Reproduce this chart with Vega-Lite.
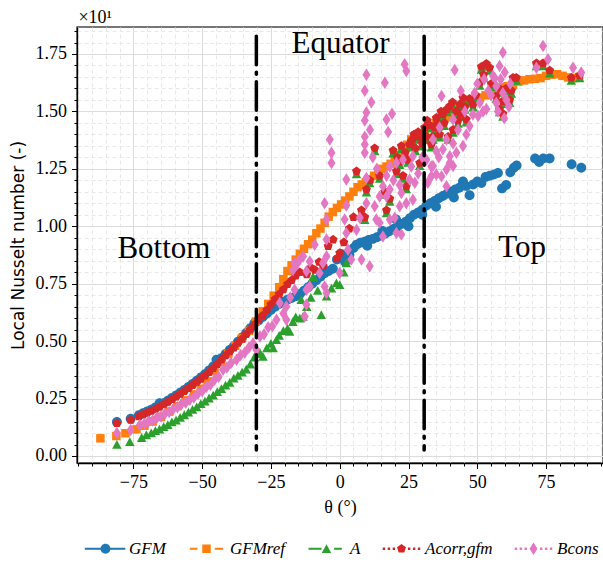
{
  "$schema": "https://vega.github.io/schema/vega-lite/v6.json",
  "width": 526,
  "height": 436,
  "autosize": {"type": "none"},
  "padding": {"left": 77, "top": 27, "right": 0, "bottom": 103},
  "config": {
    "font": "Liberation Serif",
    "view": {"stroke": "#4a4a4a", "strokeWidth": 1.5},
    "axis": {"domainColor": "black", "domainWidth": 1.3, "tickColor": "black", "tickWidth": 1, "labelFont": "Liberation Serif", "labelFontSize": 18, "labelColor": "black", "titleColor": "black", "labelOverlap": false, "labelBound": false, "labelFlush": false}
  },
  "datasets": {
    "pts": [
      {"series":"GFM","theta":-81,"Nu":1.48},{"series":"GFM","theta":-76,"Nu":1.62},{"series":"GFM","theta":-73,"Nu":1.78},{"series":"GFM","theta":-71.5,"Nu":1.86},{"series":"GFM","theta":-70,"Nu":1.94},{"series":"GFM","theta":-68.5,"Nu":2.02},{"series":"GFM","theta":-67,"Nu":2.11},{"series":"GFM","theta":-65.5,"Nu":2.3},{"series":"GFM","theta":-64,"Nu":2.3},{"series":"GFM","theta":-62.5,"Nu":2.41},{"series":"GFM","theta":-61,"Nu":2.53},{"series":"GFM","theta":-59.5,"Nu":2.64},{"series":"GFM","theta":-58,"Nu":2.76},{"series":"GFM","theta":-56.5,"Nu":2.88},{"series":"GFM","theta":-55,"Nu":3.01},{"series":"GFM","theta":-53.5,"Nu":3.14},{"series":"GFM","theta":-52,"Nu":3.28},{"series":"GFM","theta":-50.5,"Nu":3.42},{"series":"GFM","theta":-49,"Nu":3.56},{"series":"GFM","theta":-47.5,"Nu":3.72},{"series":"GFM","theta":-46,"Nu":3.9},{"series":"GFM","theta":-44.8,"Nu":4.19},{"series":"GFM","theta":-43,"Nu":4.26},{"series":"GFM","theta":-41.5,"Nu":4.44},{"series":"GFM","theta":-40,"Nu":4.62},{"series":"GFM","theta":-38.5,"Nu":4.78},{"series":"GFM","theta":-37,"Nu":4.98},{"series":"GFM","theta":-35.5,"Nu":5.16},{"series":"GFM","theta":-34,"Nu":5.36},{"series":"GFM","theta":-32.5,"Nu":5.56},{"series":"GFM","theta":-31,"Nu":5.78},{"series":"GFM","theta":-29.5,"Nu":5.9},{"series":"GFM","theta":-28,"Nu":6.05},{"series":"GFM","theta":-26.5,"Nu":6.2},{"series":"GFM","theta":-25,"Nu":6.35},{"series":"GFM","theta":-23.5,"Nu":6.5},{"series":"GFM","theta":-22,"Nu":6.62},{"series":"GFM","theta":-20.5,"Nu":6.72},{"series":"GFM","theta":-19,"Nu":6.8},{"series":"GFM","theta":-17.5,"Nu":6.88},{"series":"GFM","theta":-16,"Nu":6.95},{"series":"GFM","theta":-14.5,"Nu":7.05},{"series":"GFM","theta":-13,"Nu":7.2},{"series":"GFM","theta":-11.5,"Nu":7.35},{"series":"GFM","theta":-10,"Nu":7.5},{"series":"GFM","theta":-8.5,"Nu":7.65},{"series":"GFM","theta":-7,"Nu":7.8},{"series":"GFM","theta":-5.5,"Nu":7.95},{"series":"GFM","theta":-4,"Nu":8.05},{"series":"GFM","theta":-2.5,"Nu":8.15},{"series":"GFM","theta":-1,"Nu":8.55},{"series":"GFM","theta":0.5,"Nu":8.8},{"series":"GFM","theta":2,"Nu":8.45},{"series":"GFM","theta":3.5,"Nu":8.75},{"series":"GFM","theta":5,"Nu":9.05},{"series":"GFM","theta":6.1,"Nu":9.2},{"series":"GFM","theta":7.5,"Nu":9.28},{"series":"GFM","theta":9,"Nu":9.33},{"series":"GFM","theta":10,"Nu":9.15},{"series":"GFM","theta":10.5,"Nu":9.4},{"series":"GFM","theta":12,"Nu":9.45},{"series":"GFM","theta":13.5,"Nu":9.52},{"series":"GFM","theta":15,"Nu":9.6},{"series":"GFM","theta":15.5,"Nu":9.8},{"series":"GFM","theta":16.5,"Nu":9.68},{"series":"GFM","theta":18,"Nu":9.78},{"series":"GFM","theta":19.5,"Nu":9.88},{"series":"GFM","theta":20.5,"Nu":10.3},{"series":"GFM","theta":21,"Nu":9.98},{"series":"GFM","theta":22.5,"Nu":10.1},{"series":"GFM","theta":24,"Nu":10.2},{"series":"GFM","theta":25,"Nu":10.0},{"series":"GFM","theta":25.5,"Nu":10.35},{"series":"GFM","theta":27,"Nu":10.5},{"series":"GFM","theta":28.5,"Nu":10.6},{"series":"GFM","theta":30,"Nu":10.5},{"series":"GFM","theta":30,"Nu":10.72},{"series":"GFM","theta":31.5,"Nu":10.9},{"series":"GFM","theta":33,"Nu":11.0},{"series":"GFM","theta":34.5,"Nu":11.1},{"series":"GFM","theta":35,"Nu":10.85},{"series":"GFM","theta":36,"Nu":11.22},{"series":"GFM","theta":37.5,"Nu":11.32},{"series":"GFM","theta":39,"Nu":11.42},{"series":"GFM","theta":40.5,"Nu":11.5},{"series":"GFM","theta":41.5,"Nu":11.25},{"series":"GFM","theta":42,"Nu":11.6},{"series":"GFM","theta":43.5,"Nu":11.68},{"series":"GFM","theta":44.8,"Nu":11.95},{"series":"GFM","theta":46,"Nu":11.75},{"series":"GFM","theta":47.2,"Nu":11.35},{"series":"GFM","theta":48.5,"Nu":11.82},{"series":"GFM","theta":50,"Nu":11.95},{"series":"GFM","theta":51.5,"Nu":11.88},{"series":"GFM","theta":53,"Nu":12.15},{"series":"GFM","theta":54.5,"Nu":12.2},{"series":"GFM","theta":56,"Nu":12.25},{"series":"GFM","theta":57.5,"Nu":12.32},{"series":"GFM","theta":59,"Nu":11.65},{"series":"GFM","theta":60.5,"Nu":11.8},{"series":"GFM","theta":62,"Nu":12.35},{"series":"GFM","theta":63.3,"Nu":12.55},{"series":"GFM","theta":64.3,"Nu":12.65},{"series":"GFM","theta":71,"Nu":12.95},{"series":"GFM","theta":72.5,"Nu":12.8},{"series":"GFM","theta":74,"Nu":12.95},{"series":"GFM","theta":76.3,"Nu":12.95},{"series":"GFM","theta":84.3,"Nu":12.7},{"series":"GFM","theta":87.8,"Nu":12.55},

      {"series":"GFM_ref","theta":-87,"Nu":0.77},{"series":"GFM_ref","theta":-81.2,"Nu":0.87},{"series":"GFM_ref","theta":-77.9,"Nu":0.99},{"series":"GFM_ref","theta":-73.9,"Nu":1.16},{"series":"GFM_ref","theta":-71,"Nu":1.32},{"series":"GFM_ref","theta":-68,"Nu":1.5},{"series":"GFM_ref","theta":-65,"Nu":1.7},{"series":"GFM_ref","theta":-62,"Nu":1.93},{"series":"GFM_ref","theta":-59,"Nu":2.17},{"series":"GFM_ref","theta":-56,"Nu":2.42},{"series":"GFM_ref","theta":-53,"Nu":2.68},{"series":"GFM_ref","theta":-50.5,"Nu":2.93},{"series":"GFM_ref","theta":-48,"Nu":3.25},{"series":"GFM_ref","theta":-45.5,"Nu":3.7},{"series":"GFM_ref","theta":-43,"Nu":4.1},{"series":"GFM_ref","theta":-40.5,"Nu":4.45},{"series":"GFM_ref","theta":-38,"Nu":4.8},{"series":"GFM_ref","theta":-35.5,"Nu":5.12},{"series":"GFM_ref","theta":-33,"Nu":5.45},{"series":"GFM_ref","theta":-30.5,"Nu":5.85},{"series":"GFM_ref","theta":-28,"Nu":6.3},{"series":"GFM_ref","theta":-26,"Nu":6.62},{"series":"GFM_ref","theta":-24,"Nu":6.98},{"series":"GFM_ref","theta":-22,"Nu":7.35},{"series":"GFM_ref","theta":-20.5,"Nu":7.7},{"series":"GFM_ref","theta":-19,"Nu":8.05},{"series":"GFM_ref","theta":-17.5,"Nu":8.3},{"series":"GFM_ref","theta":-16,"Nu":8.55},{"series":"GFM_ref","theta":-14.5,"Nu":8.8},{"series":"GFM_ref","theta":-13,"Nu":9.02},{"series":"GFM_ref","theta":-11.5,"Nu":9.22},{"series":"GFM_ref","theta":-10,"Nu":9.42},{"series":"GFM_ref","theta":-8.5,"Nu":9.7},{"series":"GFM_ref","theta":-7,"Nu":9.9},{"series":"GFM_ref","theta":-5.5,"Nu":10.15},{"series":"GFM_ref","theta":-4,"Nu":10.42},{"series":"GFM_ref","theta":-2.5,"Nu":10.62},{"series":"GFM_ref","theta":-1,"Nu":10.8},{"series":"GFM_ref","theta":0.5,"Nu":10.95},{"series":"GFM_ref","theta":2,"Nu":11.12},{"series":"GFM_ref","theta":3.5,"Nu":11.3},{"series":"GFM_ref","theta":5,"Nu":11.5},{"series":"GFM_ref","theta":6.5,"Nu":11.7},{"series":"GFM_ref","theta":8,"Nu":11.82},{"series":"GFM_ref","theta":9.5,"Nu":11.92},{"series":"GFM_ref","theta":11,"Nu":12.05},{"series":"GFM_ref","theta":12.5,"Nu":12.2},{"series":"GFM_ref","theta":14,"Nu":12.35},{"series":"GFM_ref","theta":15.5,"Nu":12.5},{"series":"GFM_ref","theta":17,"Nu":12.6},{"series":"GFM_ref","theta":18.5,"Nu":12.72},{"series":"GFM_ref","theta":20,"Nu":12.9},{"series":"GFM_ref","theta":21.5,"Nu":13.1},{"series":"GFM_ref","theta":23,"Nu":13.3},{"series":"GFM_ref","theta":24.5,"Nu":13.55},{"series":"GFM_ref","theta":26,"Nu":13.78},{"series":"GFM_ref","theta":27.5,"Nu":13.95},{"series":"GFM_ref","theta":29,"Nu":14.05},{"series":"GFM_ref","theta":31,"Nu":14.2},{"series":"GFM_ref","theta":33,"Nu":14.35},{"series":"GFM_ref","theta":35,"Nu":14.5},{"series":"GFM_ref","theta":37,"Nu":14.62},{"series":"GFM_ref","theta":39,"Nu":14.75},{"series":"GFM_ref","theta":41,"Nu":14.9},{"series":"GFM_ref","theta":43,"Nu":15.05},{"series":"GFM_ref","theta":45,"Nu":15.2},{"series":"GFM_ref","theta":47,"Nu":15.35},{"series":"GFM_ref","theta":49,"Nu":15.48},{"series":"GFM_ref","theta":51,"Nu":15.6},{"series":"GFM_ref","theta":53,"Nu":15.7},{"series":"GFM_ref","theta":55,"Nu":15.82},{"series":"GFM_ref","theta":57,"Nu":15.95},{"series":"GFM_ref","theta":59,"Nu":16.05},{"series":"GFM_ref","theta":61,"Nu":16.1},{"series":"GFM_ref","theta":63,"Nu":16.15},{"series":"GFM_ref","theta":65,"Nu":16.3},{"series":"GFM_ref","theta":67,"Nu":16.35},{"series":"GFM_ref","theta":69,"Nu":16.4},{"series":"GFM_ref","theta":71,"Nu":16.42},{"series":"GFM_ref","theta":73,"Nu":16.45},{"series":"GFM_ref","theta":75,"Nu":16.55},{"series":"GFM_ref","theta":77,"Nu":16.6},{"series":"GFM_ref","theta":79,"Nu":16.62},{"series":"GFM_ref","theta":81,"Nu":16.55},{"series":"GFM_ref","theta":83,"Nu":16.48},{"series":"GFM_ref","theta":85,"Nu":16.45},{"series":"GFM_ref","theta":87,"Nu":16.5},

      {"series":"A","theta":-81,"Nu":0.5},{"series":"A","theta":-76.3,"Nu":0.62},{"series":"A","theta":-72,"Nu":0.8},{"series":"A","theta":-70.3,"Nu":0.92},{"series":"A","theta":-68.5,"Nu":1.0},{"series":"A","theta":-67,"Nu":1.1},{"series":"A","theta":-65.5,"Nu":1.17},{"series":"A","theta":-64,"Nu":1.27},{"series":"A","theta":-62.5,"Nu":1.36},{"series":"A","theta":-61,"Nu":1.48},{"series":"A","theta":-59.5,"Nu":1.56},{"series":"A","theta":-58,"Nu":1.68},{"series":"A","theta":-56.5,"Nu":1.79},{"series":"A","theta":-55,"Nu":1.9},{"series":"A","theta":-53.5,"Nu":2.02},{"series":"A","theta":-52,"Nu":2.13},{"series":"A","theta":-50.5,"Nu":2.27},{"series":"A","theta":-49,"Nu":2.38},{"series":"A","theta":-47.5,"Nu":2.52},{"series":"A","theta":-46,"Nu":2.64},{"series":"A","theta":-44.5,"Nu":2.8},{"series":"A","theta":-43,"Nu":2.93},{"series":"A","theta":-41.5,"Nu":3.08},{"series":"A","theta":-40,"Nu":3.2},{"series":"A","theta":-38.5,"Nu":3.38},{"series":"A","theta":-37,"Nu":3.5},{"series":"A","theta":-35.5,"Nu":3.65},{"series":"A","theta":-34,"Nu":3.78},{"series":"A","theta":-32.5,"Nu":4.0},{"series":"A","theta":-31,"Nu":4.3},{"series":"A","theta":-30.3,"Nu":4.45},{"series":"A","theta":-29,"Nu":4.5},{"series":"A","theta":-27.9,"Nu":4.33},{"series":"A","theta":-26.5,"Nu":4.7},{"series":"A","theta":-25,"Nu":4.9},{"series":"A","theta":-24.2,"Nu":4.7},{"series":"A","theta":-23,"Nu":5.06},{"series":"A","theta":-22,"Nu":5.25},{"series":"A","theta":-20.5,"Nu":5.45},{"series":"A","theta":-19,"Nu":5.55},{"series":"A","theta":-18.2,"Nu":5.42},{"series":"A","theta":-17,"Nu":5.85},{"series":"A","theta":-16,"Nu":6.05},{"series":"A","theta":-14.5,"Nu":6.0},{"series":"A","theta":-14,"Nu":6.8},{"series":"A","theta":-13.3,"Nu":6.07},{"series":"A","theta":-12,"Nu":6.5},{"series":"A","theta":-10.5,"Nu":6.9},{"series":"A","theta":-9.7,"Nu":7.8},{"series":"A","theta":-8,"Nu":7.2},{"series":"A","theta":-6.7,"Nu":6.15},{"series":"A","theta":-4.8,"Nu":6.95},{"series":"A","theta":-3,"Nu":7.3},{"series":"A","theta":-1.2,"Nu":7.53},{"series":"A","theta":0,"Nu":7.46},{"series":"A","theta":1.5,"Nu":8.0},{"series":"A","theta":2.4,"Nu":8.4},
      {"series":"A","theta":6.1,"Nu":12.28},{"series":"A","theta":7.9,"Nu":10.58},{"series":"A","theta":9.1,"Nu":10.28},{"series":"A","theta":9.7,"Nu":11.48},{"series":"A","theta":10.9,"Nu":11.88},{"series":"A","theta":12.7,"Nu":13.28},{"series":"A","theta":14.5,"Nu":12.08},{"series":"A","theta":16.4,"Nu":11.38},{"series":"A","theta":17,"Nu":10.58},{"series":"A","theta":18.2,"Nu":11.08},{"series":"A","theta":19.4,"Nu":13.18},{"series":"A","theta":20.6,"Nu":12.28},{"series":"A","theta":21,"Nu":12.88},{"series":"A","theta":21.8,"Nu":12.68},{"series":"A","theta":22.4,"Nu":13.38},{"series":"A","theta":23,"Nu":12.08},{"series":"A","theta":23.8,"Nu":13.08},{"series":"A","theta":24.2,"Nu":11.62},{"series":"A","theta":24.8,"Nu":12.78},{"series":"A","theta":25.4,"Nu":13.44},{"series":"A","theta":26,"Nu":13.58},{"series":"A","theta":26.6,"Nu":13.68},{"series":"A","theta":27,"Nu":13.88},{"series":"A","theta":27.5,"Nu":13.28},{"series":"A","theta":28.5,"Nu":13.98},{"series":"A","theta":29.1,"Nu":13.78},{"series":"A","theta":29.1,"Nu":12.64},{"series":"A","theta":30,"Nu":13.48},{"series":"A","theta":30.9,"Nu":14.18},{"series":"A","theta":31.5,"Nu":13.78},{"series":"A","theta":31.8,"Nu":14.48},{"series":"A","theta":32.7,"Nu":14.28},{"series":"A","theta":33.3,"Nu":13.44},{"series":"A","theta":33.9,"Nu":13.78},{"series":"A","theta":34.5,"Nu":14.18},{"series":"A","theta":35.1,"Nu":14.6},{"series":"A","theta":35.8,"Nu":14.33},{"series":"A","theta":36.3,"Nu":13.88},{"series":"A","theta":36.8,"Nu":14.88},{"series":"A","theta":37.5,"Nu":14.75},{"series":"A","theta":38,"Nu":14.38},{"series":"A","theta":39,"Nu":14.98},{"series":"A","theta":39.4,"Nu":13.78},{"series":"A","theta":40,"Nu":15.11},{"series":"A","theta":41,"Nu":15.28},{"series":"A","theta":41.2,"Nu":14.08},{"series":"A","theta":42.4,"Nu":14.88},{"series":"A","theta":43,"Nu":14.48},{"series":"A","theta":43.6,"Nu":15.18},{"series":"A","theta":44,"Nu":14.78},{"series":"A","theta":44.8,"Nu":15.48},{"series":"A","theta":45.5,"Nu":15.08},{"series":"A","theta":46,"Nu":14.53},{"series":"A","theta":47.2,"Nu":15.43},{"series":"A","theta":48.5,"Nu":15.18},{"series":"A","theta":49.5,"Nu":15.58},{"series":"A","theta":50.9,"Nu":16.13},{"series":"A","theta":51.5,"Nu":16.83},{"series":"A","theta":52.3,"Nu":16.48},{"series":"A","theta":53.3,"Nu":16.96},{"series":"A","theta":54.5,"Nu":16.78},{"series":"A","theta":55.1,"Nu":16.08},{"series":"A","theta":56.9,"Nu":15.55},{"series":"A","theta":58.1,"Nu":14.98},{"series":"A","theta":58.5,"Nu":15.83},{"series":"A","theta":59.3,"Nu":14.78},{"series":"A","theta":59.3,"Nu":15.33},{"series":"A","theta":60.5,"Nu":15.88},{"series":"A","theta":61.8,"Nu":15.38},{"series":"A","theta":62.4,"Nu":15.78},{"series":"A","theta":63,"Nu":16.35},{"series":"A","theta":64.2,"Nu":16.35},{"series":"A","theta":71.5,"Nu":16.98},{"series":"A","theta":73.9,"Nu":16.98},{"series":"A","theta":76.3,"Nu":16.66},{"series":"A","theta":84.2,"Nu":16.35},{"series":"A","theta":87.2,"Nu":16.46},

      {"series":"A_corr,gfm","theta":-81,"Nu":1.43},{"series":"A_corr,gfm","theta":-76,"Nu":1.57},{"series":"A_corr,gfm","theta":-73,"Nu":1.72},{"series":"A_corr,gfm","theta":-71.5,"Nu":1.8},{"series":"A_corr,gfm","theta":-70,"Nu":1.88},{"series":"A_corr,gfm","theta":-68.5,"Nu":1.96},{"series":"A_corr,gfm","theta":-67,"Nu":2.05},{"series":"A_corr,gfm","theta":-65.5,"Nu":2.14},{"series":"A_corr,gfm","theta":-64,"Nu":2.24},{"series":"A_corr,gfm","theta":-62.5,"Nu":2.35},{"series":"A_corr,gfm","theta":-61,"Nu":2.47},{"series":"A_corr,gfm","theta":-59.5,"Nu":2.58},{"series":"A_corr,gfm","theta":-58,"Nu":2.7},{"series":"A_corr,gfm","theta":-56.5,"Nu":2.82},{"series":"A_corr,gfm","theta":-55,"Nu":2.95},{"series":"A_corr,gfm","theta":-53.5,"Nu":3.08},{"series":"A_corr,gfm","theta":-52,"Nu":3.22},{"series":"A_corr,gfm","theta":-50.5,"Nu":3.36},{"series":"A_corr,gfm","theta":-49,"Nu":3.5},{"series":"A_corr,gfm","theta":-47.5,"Nu":3.65},{"series":"A_corr,gfm","theta":-46,"Nu":3.82},{"series":"A_corr,gfm","theta":-44.5,"Nu":4.0},{"series":"A_corr,gfm","theta":-43,"Nu":4.2},{"series":"A_corr,gfm","theta":-41.5,"Nu":4.38},{"series":"A_corr,gfm","theta":-40,"Nu":4.55},{"series":"A_corr,gfm","theta":-38.5,"Nu":4.72},{"series":"A_corr,gfm","theta":-37,"Nu":4.92},{"series":"A_corr,gfm","theta":-35.5,"Nu":5.1},{"series":"A_corr,gfm","theta":-34,"Nu":5.3},{"series":"A_corr,gfm","theta":-32.5,"Nu":5.5},{"series":"A_corr,gfm","theta":-31,"Nu":5.72},{"series":"A_corr,gfm","theta":-29.5,"Nu":5.92},{"series":"A_corr,gfm","theta":-28,"Nu":6.12},{"series":"A_corr,gfm","theta":-26.5,"Nu":6.35},{"series":"A_corr,gfm","theta":-25,"Nu":6.6},{"series":"A_corr,gfm","theta":-23.5,"Nu":6.82},{"series":"A_corr,gfm","theta":-22,"Nu":7.05},{"series":"A_corr,gfm","theta":-20.5,"Nu":7.25},{"series":"A_corr,gfm","theta":-19,"Nu":7.48},{"series":"A_corr,gfm","theta":-17.5,"Nu":7.65},{"series":"A_corr,gfm","theta":-16,"Nu":7.85},{"series":"A_corr,gfm","theta":-14.5,"Nu":8.0},{"series":"A_corr,gfm","theta":-12,"Nu":7.9},{"series":"A_corr,gfm","theta":-10.5,"Nu":8.2},{"series":"A_corr,gfm","theta":-9,"Nu":8.1},{"series":"A_corr,gfm","theta":-7.5,"Nu":8.45},{"series":"A_corr,gfm","theta":-6,"Nu":8.26},{"series":"A_corr,gfm","theta":-4.2,"Nu":9.13},{"series":"A_corr,gfm","theta":-2.4,"Nu":9.42},{"series":"A_corr,gfm","theta":-1,"Nu":8.6},{"series":"A_corr,gfm","theta":0,"Nu":8.84},{"series":"A_corr,gfm","theta":1.5,"Nu":9.3},{"series":"A_corr,gfm","theta":3.5,"Nu":9.9},{"series":"A_corr,gfm","theta":5,"Nu":10.4},
      {"series":"A_corr,gfm","theta":6.1,"Nu":12.4},{"series":"A_corr,gfm","theta":7.9,"Nu":10.7},{"series":"A_corr,gfm","theta":9.1,"Nu":10.4},{"series":"A_corr,gfm","theta":9.7,"Nu":11.6},{"series":"A_corr,gfm","theta":10.9,"Nu":12.0},{"series":"A_corr,gfm","theta":12.7,"Nu":13.4},{"series":"A_corr,gfm","theta":14.5,"Nu":12.2},{"series":"A_corr,gfm","theta":16.4,"Nu":11.5},{"series":"A_corr,gfm","theta":17,"Nu":10.7},{"series":"A_corr,gfm","theta":18.2,"Nu":11.2},{"series":"A_corr,gfm","theta":19.4,"Nu":13.3},{"series":"A_corr,gfm","theta":20.6,"Nu":12.4},{"series":"A_corr,gfm","theta":21,"Nu":13.0},{"series":"A_corr,gfm","theta":21.8,"Nu":12.8},{"series":"A_corr,gfm","theta":22.4,"Nu":13.5},{"series":"A_corr,gfm","theta":23,"Nu":12.2},{"series":"A_corr,gfm","theta":23.8,"Nu":13.2},{"series":"A_corr,gfm","theta":24.2,"Nu":11.74},{"series":"A_corr,gfm","theta":24.8,"Nu":12.9},{"series":"A_corr,gfm","theta":25.4,"Nu":13.56},{"series":"A_corr,gfm","theta":26,"Nu":13.7},{"series":"A_corr,gfm","theta":26.6,"Nu":13.8},{"series":"A_corr,gfm","theta":27,"Nu":14.0},{"series":"A_corr,gfm","theta":27.5,"Nu":13.4},{"series":"A_corr,gfm","theta":28.5,"Nu":14.1},{"series":"A_corr,gfm","theta":29.1,"Nu":13.9},{"series":"A_corr,gfm","theta":29.1,"Nu":12.76},{"series":"A_corr,gfm","theta":30,"Nu":13.6},{"series":"A_corr,gfm","theta":30.9,"Nu":14.3},{"series":"A_corr,gfm","theta":31.5,"Nu":13.9},{"series":"A_corr,gfm","theta":31.8,"Nu":14.6},{"series":"A_corr,gfm","theta":32.7,"Nu":14.4},{"series":"A_corr,gfm","theta":33.3,"Nu":13.56},{"series":"A_corr,gfm","theta":33.9,"Nu":13.9},{"series":"A_corr,gfm","theta":34.5,"Nu":14.3},{"series":"A_corr,gfm","theta":35.1,"Nu":14.72},{"series":"A_corr,gfm","theta":35.8,"Nu":14.45},{"series":"A_corr,gfm","theta":36.3,"Nu":14.0},{"series":"A_corr,gfm","theta":36.8,"Nu":15.0},{"series":"A_corr,gfm","theta":37.5,"Nu":14.87},{"series":"A_corr,gfm","theta":38,"Nu":14.5},{"series":"A_corr,gfm","theta":39,"Nu":15.1},{"series":"A_corr,gfm","theta":39.4,"Nu":13.9},{"series":"A_corr,gfm","theta":40,"Nu":15.23},{"series":"A_corr,gfm","theta":41,"Nu":15.4},{"series":"A_corr,gfm","theta":41.2,"Nu":14.2},{"series":"A_corr,gfm","theta":42.4,"Nu":15.0},{"series":"A_corr,gfm","theta":43,"Nu":14.6},{"series":"A_corr,gfm","theta":43.6,"Nu":15.3},{"series":"A_corr,gfm","theta":44,"Nu":14.9},{"series":"A_corr,gfm","theta":44.8,"Nu":15.6},{"series":"A_corr,gfm","theta":45.5,"Nu":15.2},{"series":"A_corr,gfm","theta":46,"Nu":14.65},{"series":"A_corr,gfm","theta":47.2,"Nu":15.55},{"series":"A_corr,gfm","theta":48.5,"Nu":15.3},{"series":"A_corr,gfm","theta":49.5,"Nu":15.7},{"series":"A_corr,gfm","theta":50.9,"Nu":16.25},{"series":"A_corr,gfm","theta":51.5,"Nu":16.95},{"series":"A_corr,gfm","theta":52.3,"Nu":16.6},{"series":"A_corr,gfm","theta":53.3,"Nu":17.08},{"series":"A_corr,gfm","theta":54.5,"Nu":16.9},{"series":"A_corr,gfm","theta":55.1,"Nu":16.2},{"series":"A_corr,gfm","theta":56.9,"Nu":15.67},{"series":"A_corr,gfm","theta":58.1,"Nu":15.1},{"series":"A_corr,gfm","theta":58.5,"Nu":15.95},{"series":"A_corr,gfm","theta":59.3,"Nu":14.9},{"series":"A_corr,gfm","theta":59.3,"Nu":15.45},{"series":"A_corr,gfm","theta":60.5,"Nu":16.0},{"series":"A_corr,gfm","theta":61.8,"Nu":15.5},{"series":"A_corr,gfm","theta":62.4,"Nu":15.9},{"series":"A_corr,gfm","theta":63,"Nu":16.47},{"series":"A_corr,gfm","theta":64.2,"Nu":16.47},{"series":"A_corr,gfm","theta":71.5,"Nu":17.1},{"series":"A_corr,gfm","theta":73.9,"Nu":17.1},{"series":"A_corr,gfm","theta":76.3,"Nu":16.78},{"series":"A_corr,gfm","theta":84.2,"Nu":16.47},{"series":"A_corr,gfm","theta":87.2,"Nu":16.58},

      {"series":"B_cons","theta":-81,"Nu":1.0},{"series":"B_cons","theta":-76,"Nu":1.13},{"series":"B_cons","theta":-72.7,"Nu":1.35},{"series":"B_cons","theta":-71,"Nu":1.4},{"series":"B_cons","theta":-69.5,"Nu":1.5},{"series":"B_cons","theta":-68,"Nu":1.55},{"series":"B_cons","theta":-66.5,"Nu":1.66},{"series":"B_cons","theta":-65,"Nu":1.72},{"series":"B_cons","theta":-63.5,"Nu":1.85},{"series":"B_cons","theta":-62,"Nu":1.92},{"series":"B_cons","theta":-60.5,"Nu":2.05},{"series":"B_cons","theta":-59,"Nu":2.12},{"series":"B_cons","theta":-57.5,"Nu":2.26},{"series":"B_cons","theta":-56,"Nu":2.32},{"series":"B_cons","theta":-54.5,"Nu":2.45},{"series":"B_cons","theta":-53,"Nu":2.55},{"series":"B_cons","theta":-51.5,"Nu":2.72},{"series":"B_cons","theta":-50,"Nu":2.82},{"series":"B_cons","theta":-48.5,"Nu":3.0},{"series":"B_cons","theta":-47,"Nu":3.1},{"series":"B_cons","theta":-45.5,"Nu":3.32},{"series":"B_cons","theta":-44,"Nu":3.45},{"series":"B_cons","theta":-42.4,"Nu":3.75},{"series":"B_cons","theta":-41,"Nu":3.85},{"series":"B_cons","theta":-39.5,"Nu":4.05},{"series":"B_cons","theta":-37.5,"Nu":4.19},{"series":"B_cons","theta":-36,"Nu":4.4},{"series":"B_cons","theta":-34.5,"Nu":4.5},{"series":"B_cons","theta":-33,"Nu":4.72},{"series":"B_cons","theta":-31.5,"Nu":4.91},{"series":"B_cons","theta":-30.3,"Nu":4.62},{"series":"B_cons","theta":-29,"Nu":5.2},{"series":"B_cons","theta":-27.5,"Nu":5.3},{"series":"B_cons","theta":-26,"Nu":5.6},{"series":"B_cons","theta":-24.5,"Nu":5.65},{"series":"B_cons","theta":-23,"Nu":5.93},{"series":"B_cons","theta":-21.8,"Nu":6.66},{"series":"B_cons","theta":-20.5,"Nu":6.2},{"series":"B_cons","theta":-19.4,"Nu":6.51},{"series":"B_cons","theta":-19.4,"Nu":5.93},{"series":"B_cons","theta":-18,"Nu":6.9},{"series":"B_cons","theta":-17,"Nu":8.1},{"series":"B_cons","theta":-16.4,"Nu":7.24},{"series":"B_cons","theta":-16.4,"Nu":8.4},{"series":"B_cons","theta":-15.7,"Nu":8.33},
      {"series":"B_cons","theta":-14.5,"Nu":8.55},{"series":"B_cons","theta":-13.3,"Nu":8.69},{"series":"B_cons","theta":-12.1,"Nu":8.04},{"series":"B_cons","theta":-12.1,"Nu":7.24},{"series":"B_cons","theta":-12.1,"Nu":6.59},{"series":"B_cons","theta":-12.7,"Nu":6.07},{"series":"B_cons","theta":-10.9,"Nu":8.47},{"series":"B_cons","theta":-10.9,"Nu":7.38},{"series":"B_cons","theta":-9.1,"Nu":9.2},{"series":"B_cons","theta":-7.3,"Nu":7.97},{"series":"B_cons","theta":-6.1,"Nu":8.4},{"series":"B_cons","theta":-5.5,"Nu":7.38},{"series":"B_cons","theta":-5.5,"Nu":11.0},{"series":"B_cons","theta":-4.8,"Nu":10.3},{"series":"B_cons","theta":-4.8,"Nu":9.42},{"series":"B_cons","theta":-4.8,"Nu":8.69},{"series":"B_cons","theta":-4.8,"Nu":7.1},{"series":"B_cons","theta":-3.6,"Nu":13.78},{"series":"B_cons","theta":-3,"Nu":13.2},{"series":"B_cons","theta":-3,"Nu":12.76},{"series":"B_cons","theta":0,"Nu":7.97},{"series":"B_cons","theta":1.8,"Nu":10.3},{"series":"B_cons","theta":2.4,"Nu":12.04},{"series":"B_cons","theta":2.4,"Nu":10.9},{"series":"B_cons","theta":2.4,"Nu":9.71},{"series":"B_cons","theta":3,"Nu":8.98},{"series":"B_cons","theta":4.2,"Nu":8.55},{"series":"B_cons","theta":6.1,"Nu":9.85},{"series":"B_cons","theta":7.3,"Nu":10.37},{"series":"B_cons","theta":7.9,"Nu":8.55},{"series":"B_cons","theta":9.1,"Nu":15.9},{"series":"B_cons","theta":9.1,"Nu":14.6},{"series":"B_cons","theta":9.1,"Nu":13.9},{"series":"B_cons","theta":9.1,"Nu":13.56},{"series":"B_cons","theta":9.1,"Nu":13.2},{"series":"B_cons","theta":9.7,"Nu":16.6},{"series":"B_cons","theta":9.7,"Nu":14.95},{"series":"B_cons","theta":9.7,"Nu":12.1},{"series":"B_cons","theta":9.7,"Nu":11.0},{"series":"B_cons","theta":10.9,"Nu":8.26},{"series":"B_cons","theta":11,"Nu":14.2},{"series":"B_cons","theta":11.5,"Nu":15.4},{"series":"B_cons","theta":12,"Nu":13.0},{"series":"B_cons","theta":12.7,"Nu":10.87},{"series":"B_cons","theta":13.3,"Nu":10.3},{"series":"B_cons","theta":13.5,"Nu":12.5},{"series":"B_cons","theta":14.5,"Nu":11.3},{"series":"B_cons","theta":14.5,"Nu":10.15},{"series":"B_cons","theta":15.7,"Nu":11.74},{"series":"B_cons","theta":15.7,"Nu":9.56},{"series":"B_cons","theta":16.4,"Nu":16.25},{"series":"B_cons","theta":17,"Nu":14.65},{"series":"B_cons","theta":17,"Nu":12.2},{"series":"B_cons","theta":17,"Nu":11.3},{"series":"B_cons","theta":17.6,"Nu":14.1},{"series":"B_cons","theta":18.2,"Nu":12.6},{"series":"B_cons","theta":18.2,"Nu":11.6},{"series":"B_cons","theta":18.2,"Nu":10.3},{"series":"B_cons","theta":19,"Nu":14.9},{"series":"B_cons","theta":19.5,"Nu":12.0},{"series":"B_cons","theta":20,"Nu":10.37},{"series":"B_cons","theta":20.6,"Nu":12.76},{"series":"B_cons","theta":20.6,"Nu":9.71},{"series":"B_cons","theta":21.8,"Nu":11.8},{"series":"B_cons","theta":21.8,"Nu":10.87},{"series":"B_cons","theta":22.4,"Nu":11.45},{"series":"B_cons","theta":22.4,"Nu":9.64},{"series":"B_cons","theta":23,"Nu":12.9},{"series":"B_cons","theta":23.6,"Nu":17.05},{"series":"B_cons","theta":24.2,"Nu":16.76},{"series":"B_cons","theta":24.2,"Nu":11.0},{"series":"B_cons","theta":25.4,"Nu":12.04},{"series":"B_cons","theta":26,"Nu":12.6},{"series":"B_cons","theta":26.6,"Nu":13.05},{"series":"B_cons","theta":26.6,"Nu":11.16},{"series":"B_cons","theta":27.3,"Nu":11.9},{"series":"B_cons","theta":28.5,"Nu":12.3},{"series":"B_cons","theta":30,"Nu":13.0},{"series":"B_cons","theta":31.5,"Nu":12.9},{"series":"B_cons","theta":32,"Nu":11.9},{"series":"B_cons","theta":33.3,"Nu":12.6},{"series":"B_cons","theta":33.3,"Nu":12.18},{"series":"B_cons","theta":33.9,"Nu":13.78},{"series":"B_cons","theta":33.9,"Nu":12.62},{"series":"B_cons","theta":35.1,"Nu":13.27},{"series":"B_cons","theta":35.1,"Nu":12.25},{"series":"B_cons","theta":36,"Nu":13.0},{"series":"B_cons","theta":36.3,"Nu":14.3},{"series":"B_cons","theta":37,"Nu":15.67},{"series":"B_cons","theta":37,"Nu":12.18},{"series":"B_cons","theta":37.5,"Nu":13.35},{"series":"B_cons","theta":38.8,"Nu":13.78},{"series":"B_cons","theta":38.8,"Nu":12.47},{"series":"B_cons","theta":38.8,"Nu":11.74},{"series":"B_cons","theta":40,"Nu":12.76},{"series":"B_cons","theta":40,"Nu":13.05},{"series":"B_cons","theta":41.2,"Nu":13.6},{"series":"B_cons","theta":41.2,"Nu":14.65},{"series":"B_cons","theta":41.2,"Nu":12.62},{"series":"B_cons","theta":41.8,"Nu":16.8},{"series":"B_cons","theta":42.4,"Nu":13.2},{"series":"B_cons","theta":43,"Nu":14.2},{"series":"B_cons","theta":44,"Nu":15.9},{"series":"B_cons","theta":44.8,"Nu":13.5},{"series":"B_cons","theta":45.5,"Nu":15.0},{"series":"B_cons","theta":46,"Nu":14.0},{"series":"B_cons","theta":47.2,"Nu":14.36},{"series":"B_cons","theta":48.4,"Nu":14.87},{"series":"B_cons","theta":49,"Nu":15.8},{"series":"B_cons","theta":50,"Nu":16.2},{"series":"B_cons","theta":50.3,"Nu":14.8},{"series":"B_cons","theta":50.9,"Nu":15.38},{"series":"B_cons","theta":52.1,"Nu":15.0},{"series":"B_cons","theta":52.5,"Nu":16.4},{"series":"B_cons","theta":53.3,"Nu":15.1},{"series":"B_cons","theta":54,"Nu":15.9},{"series":"B_cons","theta":55,"Nu":15.7},{"series":"B_cons","theta":55.7,"Nu":16.54},{"series":"B_cons","theta":56.3,"Nu":16.47},{"series":"B_cons","theta":56.9,"Nu":16.1},{"series":"B_cons","theta":56.9,"Nu":15.38},{"series":"B_cons","theta":57.5,"Nu":15.0},{"series":"B_cons","theta":58.1,"Nu":16.98},{"series":"B_cons","theta":58.5,"Nu":16.4},{"series":"B_cons","theta":59.3,"Nu":17.56},{"series":"B_cons","theta":59.3,"Nu":15.8},{"series":"B_cons","theta":59.8,"Nu":14.7},{"series":"B_cons","theta":60,"Nu":16.7},{"series":"B_cons","theta":60.6,"Nu":15.5},{"series":"B_cons","theta":61.5,"Nu":15.2},{"series":"B_cons","theta":62,"Nu":16.2},{"series":"B_cons","theta":71.5,"Nu":16.9},{"series":"B_cons","theta":73.9,"Nu":17.85},{"series":"B_cons","theta":75.7,"Nu":17.27},{"series":"B_cons","theta":84.8,"Nu":16.9},{"series":"B_cons","theta":87.8,"Nu":16.69}
    ],
    "dividers": [
      {"theta": -30.3, "Nu": 18.27, "Nu2": 0.26},
      {"theta": 30.7, "Nu": 18.27, "Nu2": 0.26}
    ],
    "regions": [
      {"label": "Bottom", "theta": -63.9, "Nu": 8.62},
      {"label": "Equator", "theta": 0.3, "Nu": 17.55},
      {"label": "Top", "theta": 66.3, "Nu": 8.66}
    ],
    "multiplier": [
      {"label": "×10¹", "theta": -95.0, "Nu": 18.86}
    ]
  },
  "layer": [
    {
      "data": {"name": "pts"},
      "mark": {"type": "point", "filled": true, "opacity": 1, "size": 81, "strokeWidth": 0},
      "encoding": {
        "x": {
          "field": "theta", "type": "quantitative",
          "scale": {"domain": [-95.5, 95.7], "nice": false, "zero": false},
          "axis": {
            "title": "θ (°)", "titleFont": "Liberation Serif", "titleFontSize": 18, "titleFontWeight": "normal", "titlePadding": 7,
            "values": [-95,-90,-85,-80,-75,-70,-65,-60,-55,-50,-45,-40,-35,-30,-25,-20,-15,-10,-5,0,5,10,15,20,25,30,35,40,45,50,55,60,65,70,75,80,85,90,95],
            "tickCount": 200,
            "labelExpr": "datum.value % 25 === 0 ? format(datum.value, 'd') : ''",
            "labelOverlap": false,
            "labelPadding": 5,
            "grid": true,
            "gridColor": {"condition": {"test": "datum.value % 25 === 0", "value": "#dcdcdc"}, "value": "#e8e8e8"},
            "gridDash": {"condition": {"test": "datum.value % 25 === 0", "value": []}, "value": [4, 3]},
            "gridWidth": 1,
            "tickSize": {"condition": {"test": "datum.value % 25 === 0", "value": 5.5}, "value": 3}
          }
        },
        "y": {
          "field": "Nu", "type": "quantitative",
          "scale": {"domain": [-0.305, 18.675], "nice": false, "zero": false},
          "axis": {
            "title": "Local Nusselt number (-)", "titleFont": "DejaVu Sans", "titleFontSize": 17, "titleFontWeight": "normal", "titlePadding": 8,
            "values": [0,0.5,1,1.5,2,2.5,3,3.5,4,4.5,5,5.5,6,6.5,7,7.5,8,8.5,9,9.5,10,10.5,11,11.5,12,12.5,13,13.5,14,14.5,15,15.5,16,16.5,17,17.5,18,18.5],
            "tickCount": 200,
            "labelExpr": "datum.value % 2.5 === 0 ? format(datum.value / 10, '.2f') : ''",
            "labelOverlap": false,
            "labelPadding": 5,
            "grid": true,
            "gridColor": {"condition": {"test": "datum.value % 2.5 === 0", "value": "#dcdcdc"}, "value": "#e8e8e8"},
            "gridDash": {"condition": {"test": "datum.value % 2.5 === 0", "value": []}, "value": [4, 3]},
            "gridWidth": 1,
            "tickSize": {"condition": {"test": "datum.value % 2.5 === 0", "value": 5.5}, "value": 3}
          }
        },
        "color": {
          "field": "series", "type": "nominal",
          "scale": {"domain": ["GFM", "GFM_ref", "A", "A_corr,gfm", "B_cons"], "range": ["#1f77b4", "#ff7f0e", "#2ca02c", "#d62728", "#e377c2"]},
          "legend": null
        },
        "shape": {
          "field": "series", "type": "nominal",
          "scale": {"domain": ["GFM", "GFM_ref", "A", "A_corr,gfm", "B_cons"], "range": ["M1.1,0A1.1,1.1 0 1,1 -1.1,0A1.1,1.1 0 1,1 1.1,0Z", "M-0.944,-0.944H0.944V0.944H-0.944Z", "M0,-1L1.05,0.95L-1.05,0.95Z", "M0,-1.053L1.001,-0.325L0.619,0.852L-0.619,0.852L-1.001,-0.325Z", "M0,-1.39L0.89,0L0,1.39L-0.89,0Z"]},
          "legend": null
        }
      }
    },
    {
      "data": {"name": "pts"},
      "transform": [{"filter": "false"}],
      "mark": {"type": "point", "filled": true, "opacity": 1, "size": 81, "strokeWidth": 0},
      "encoding": {
        "color": {
          "field": "series", "type": "nominal",
          "scale": {"domain": ["GFM", "GFM_ref", "A", "A_corr,gfm", "B_cons"], "range": ["#1f77b4", "#ff7f0e", "#2ca02c", "#d62728", "#e377c2"]},
          "legend": {
            "title": null, "orient": "none", "direction": "horizontal", "legendX": 6, "legendY": 513,
            "padding": 0, "columnPadding": 18, "symbolSize": 81, "symbolOffset": 14, "labelOffset": 15,
            "symbolStrokeWidth": 0, "symbolOpacity": 1,
            "labelFont": "Liberation Serif", "labelFontStyle": "italic", "labelFontSize": 17, "labelColor": "black",
            "labelExpr": "replace(datum.label, '_', '')"
          }
        },
        "shape": {
          "field": "series", "type": "nominal",
          "scale": {"domain": ["GFM", "GFM_ref", "A", "A_corr,gfm", "B_cons"], "range": [
            "M-4.6,-0.22H-0.8V0.22H-4.6ZM0.8,-0.22H4.4V0.22H0.8ZM1.1,0A1.1,1.1 0 1,1 -1.1,0A1.1,1.1 0 1,1 1.1,0Z",
            "M-3.7,-0.22H-2V0.22H-3.7ZM1.85,-0.22H3.7V0.22H1.85ZM-0.944,-0.944H0.944V0.944H-0.944Z",
            "M-4,-0.22H-1.1V0.22H-4ZM1.7,-0.22H3.4V0.22H1.7ZM0,-1L1.05,0.95L-1.05,0.95Z",
            "M-4.17,-0.27h0.54v0.54h-0.54ZM-3.07,-0.27h0.54v0.54h-0.54ZM-1.97,-0.27h0.54v0.54h-0.54ZM1.43,-0.27h0.54v0.54h-0.54ZM2.53,-0.27h0.54v0.54h-0.54ZM3.63,-0.27h0.54v0.54h-0.54ZM0,-1.053L1.001,-0.325L0.619,0.852L-0.619,0.852L-1.001,-0.325Z",
            "M-4.17,-0.27h0.54v0.54h-0.54ZM-3.07,-0.27h0.54v0.54h-0.54ZM-1.97,-0.27h0.54v0.54h-0.54ZM1.43,-0.27h0.54v0.54h-0.54ZM2.53,-0.27h0.54v0.54h-0.54ZM3.63,-0.27h0.54v0.54h-0.54ZM0,-1.39L0.89,0L0,1.39L-0.89,0Z"
          ]}
        }
      }
    },
    {
      "data": {"name": "dividers"},
      "mark": {"type": "rule", "color": "black", "strokeWidth": 3.5, "strokeDash": [28.5, 7.5, 2, 7.5], "strokeCap": "round"},
      "encoding": {
        "x": {"field": "theta", "type": "quantitative"},
        "y": {"field": "Nu", "type": "quantitative"},
        "y2": {"field": "Nu2"}
      }
    },
    {
      "data": {"name": "regions"},
      "mark": {"type": "text", "font": "Liberation Serif", "fontSize": 31, "baseline": "alphabetic", "align": "center", "color": "black"},
      "encoding": {
        "x": {"field": "theta", "type": "quantitative"},
        "y": {"field": "Nu", "type": "quantitative"},
        "text": {"field": "label"}
      }
    },
    {
      "data": {"name": "multiplier"},
      "mark": {"type": "text", "font": "Liberation Serif", "fontSize": 18, "baseline": "alphabetic", "align": "left", "color": "black"},
      "encoding": {
        "x": {"field": "theta", "type": "quantitative"},
        "y": {"field": "Nu", "type": "quantitative"},
        "text": {"field": "label"}
      }
    }
  ],
  "resolve": {"scale": {"color": "independent", "shape": "independent"}}
}
